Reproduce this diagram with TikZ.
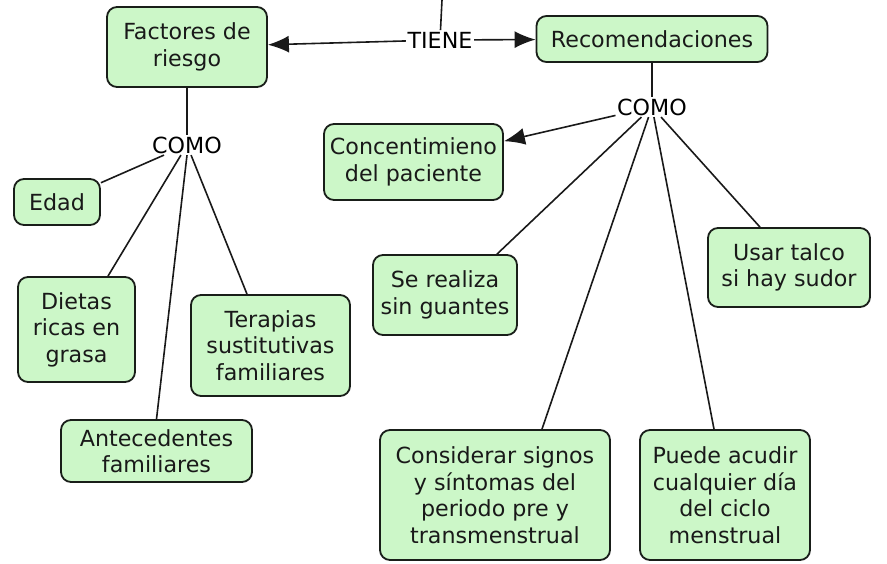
\documentclass[tikz,border=0pt]{standalone}
\usepackage{fontspec}
\setmainfont{DejaVu Sans}
\usetikzlibrary{arrows.meta}
\definecolor{boxfill}{RGB}{204,247,200}
\definecolor{boxline}{RGB}{25,30,25}
\begin{document}
\begin{tikzpicture}[x=1pt,y=-1pt,
  concept/.style={draw=boxline,line width=1.8pt,fill=boxfill,rounded corners=10pt,
    align=center,inner sep=0pt,font=\fontsize{22.2}{26.5}\selectfont,text=black!90},
  lbl/.style={inner sep=1.5pt,font=\fontsize{22.2}{24}\selectfont,fill=white},
  link/.style={line width=1.6pt,black!90},
  arr/.style={link,-{Latex[length=21pt,width=17pt]}}]
\useasboundingbox (0,0) rectangle (887,564);
% nodes
\node[concept,minimum width=160pt,minimum height=80pt] (fr) at (187,47) {Factores de\\riesgo};
\node[lbl] (tiene) at (440,40) {TIENE};
\node[concept,minimum width=231pt,minimum height=46pt] (rec) at (652,39) {Recomendaciones};
\coordinate (top) at (442,0);
\node[lbl] (comoL) at (187,145) {COMO};
\node[lbl] (comoR) at (652,107) {COMO};
\node[concept,minimum width=86pt,minimum height=46pt] (edad) at (57,202) {Edad};
\node[concept,minimum width=117pt,minimum height=105pt] (dietas) at (76.5,329.5) {Dietas\\ricas en\\grasa};
\node[concept,minimum width=159pt,minimum height=101pt] (terapias) at (270.5,345.5) {Terapias\\sustitutivas\\familiares};
\node[concept,minimum width=191pt,minimum height=62pt] (ante) at (156.5,451) {Antecedentes\\familiares};
\node[concept,minimum width=179pt,minimum height=76pt] (conc) at (413.5,162) {Concentimieno\\del paciente};
\node[concept,minimum width=144pt,minimum height=80pt] (serea) at (445,295) {Se realiza\\sin guantes};
\node[concept,minimum width=162pt,minimum height=79pt] (talco) at (789,267.5) {Usar talco\\si hay sudor};
\node[concept,minimum width=230pt,minimum height=130pt] (cons) at (495,495) {Considerar signos\\y síntomas del\\periodo pre y\\transmenstrual};
\node[concept,minimum width=170pt,minimum height=130pt] (puede) at (725,495) {Puede acudir\\cualquier día\\del ciclo\\menstrual};
% connectors
\draw[link] (top) -- (tiene);
\draw[arr] (tiene) -- (fr);
\draw[arr] (tiene) -- (rec);
\draw[link] (fr) -- (comoL);
\draw[link] (rec) -- (comoR);
\draw[link] (comoL) -- (edad);
\draw[link] (comoL) -- (dietas.north -| 108,0);
\draw[link] (comoL.south) -- (ante.north);
\draw[link] (comoL) -- (terapias.north -| 247,0);
\draw[arr] (comoR) -- (conc);
\draw[link] (comoR) -- (serea.north -| 497,0);
\draw[link] (comoR) -- (cons.north -| 542,0);
\draw[link] (comoR) -- (puede.north -| 714,0);
\draw[link] (comoR) -- (talco.north -| 760,0);
\end{tikzpicture}
\end{document}
